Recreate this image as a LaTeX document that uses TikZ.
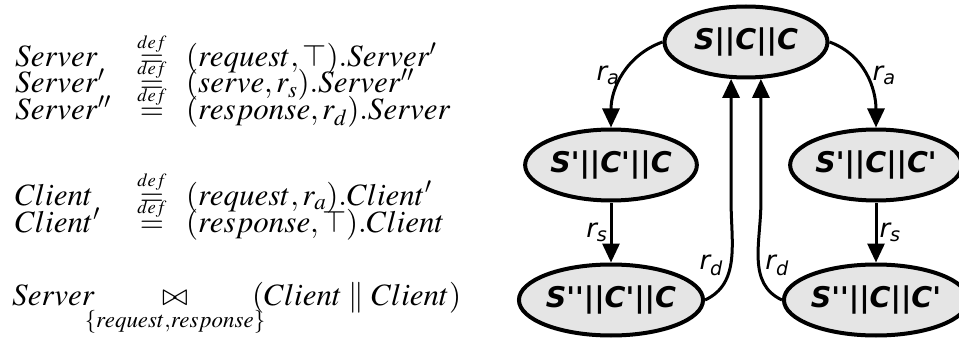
\documentclass[tikz,border=0pt]{standalone}
\usepackage{mathptmx}
\usepackage[no-math]{fontspec}
\setmainfont{Liberation Serif}
\newfontfamily\statefont{DejaVu Sans}[Ligatures=TeXOff]
\usetikzlibrary{arrows.meta,shapes.geometric}

\newcommand{\defeq}{\stackrel{\scriptscriptstyle def}{=}}

\tikzset{
  state/.style={ellipse, draw, line width=4pt, fill=gray!20, inner sep=0pt,
    minimum width=163pt, minimum height=71pt,
    font=\statefont\bfseries\itshape\fontsize{28.5}{30}\selectfont},
  trans/.style={line width=3pt, -{Triangle[length=19pt,width=17pt]}},
  rate/.style={font=\statefont\itshape\fontsize{26}{28}\selectfont, inner sep=2pt},
  eqn/.style={font=\fontsize{31}{33}\selectfont, inner sep=0pt},
  row/.style={eqn, text height=19pt, text depth=6pt},
}

\begin{document}
\begin{tikzpicture}[x=1pt,y=1pt]
  \useasboundingbox (0,0) rectangle (959,-342);

  % model
  \node[row, anchor=base west] (srv)  at (15,-67)  {$Server$};
  \node[row, anchor=base]      (def1) at (152,-67) {$\defeq$};
  \node[row, anchor=base west] (rhs1) at (186,-67) {$(request,\top).Server'$};
  \node[row, anchor=base west] (srv1) at (15,-93)  {$Server'$};
  \node[row, anchor=base]      (def2) at (152,-93) {$\defeq$};
  \node[row, anchor=base west] (rhs2) at (186,-93) {$(serve,r_s).Server''$};
  \node[row, anchor=base west] (srv2) at (15,-120) {$Server''$};
  \node[row, anchor=base]      (def3) at (152,-120) {$\defeq$};
  \node[row, anchor=base west] (rhs3) at (186,-120) {$(response,r_d).Server$};

  \node[row, anchor=base west] (cli)  at (15,-205) {$Client$};
  \node[row, anchor=base]      (def4) at (152,-205) {$\defeq$};
  \node[row, anchor=base west] (rhs4) at (186,-205) {$(request,r_a).Client'$};
  \node[row, anchor=base west] (cli1) at (15,-232) {$Client'$};
  \node[row, anchor=base]      (def5) at (152,-232) {$\defeq$};
  \node[row, anchor=base west] (rhs5) at (186,-232) {$(response,\top).Client$};

  \node[row, anchor=base west] (sys)  at (12,-305)  {$Server$};
  \node[eqn, anchor=base]      (coop) at (175,-305) {$\mathop{\bowtie}\limits_{\{request,response\}}$};
  \node[row, anchor=base west] (cc)   at (252,-305) {$(Client \parallel Client)$};

  % derivation graph
  \node[state] (s0) at (746,-42)  {S||C||C};
  \node[state] (s1) at (611,-165) {S'||C'||C};
  \node[state] (s2) at (876,-165) {S'||C||C'};
  \node[state] (s3) at (611,-300) {S''||C'||C};
  \node[state] (s4) at (876,-300) {S''||C||C'};

  \draw[trans] (s0.west) to[out=200,in=90]
    node[rate, left] {r\textsubscript{a}} (s1.north);
  \draw[trans] (s0.east) to[out=-20,in=90]
    node[rate, right, xshift=3pt] {r\textsubscript{a}} (s2.north);
  \draw[trans] (s1) -- node[rate, left] {r\textsubscript{s}} (s3);
  \draw[trans] (s2) -- node[rate, right] {r\textsubscript{s}} (s4);
  \draw[trans] (s3.east) to[out=25,in=-90]
    node[rate, pos=0.3, above left] {r\textsubscript{d}} (s0.248 |- s1.south) -- (s0.248);
  \draw[trans] (s4.west) to[out=155,in=-90]
    node[rate, pos=0.3, above right] {r\textsubscript{d}} (s0.292 |- s1.south) -- (s0.292);
\end{tikzpicture}
\end{document}
